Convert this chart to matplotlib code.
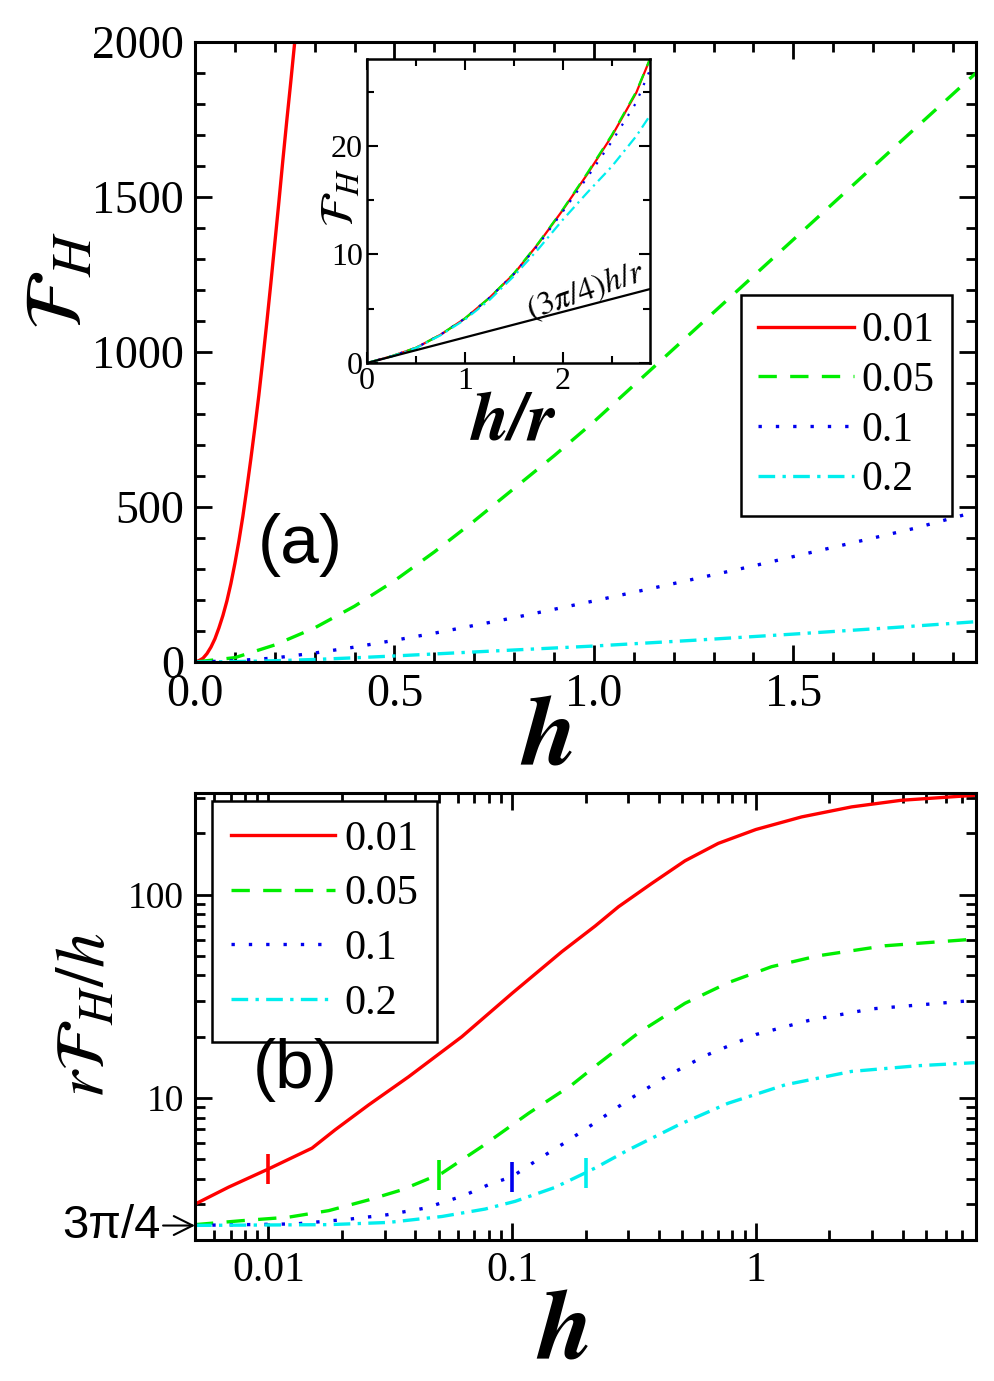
import numpy as np
import matplotlib
matplotlib.use("Agg")
import matplotlib.pyplot as plt
import matplotlib.ticker as mticker

plt.rcParams['font.family'] = ['Liberation Serif', 'DejaVu Serif']
plt.rcParams['mathtext.fontset'] = 'stix'

# ---------------- data ----------------
r_labels = ['0.01', '0.05', '0.1', '0.2']
r_values = [0.01, 0.05, 0.1, 0.2]
colors = ['#ff0000', '#00ee00', '#0000ee', '#00eeee']

# panel (a): F_H vs h
h_red = [0, 0.01, 0.02, 0.03, 0.04, 0.05, 0.06, 0.07, 0.08, 0.09, 0.10, 0.11, 0.12, 0.13,
         0.14, 0.15, 0.16, 0.17, 0.18, 0.19, 0.20, 0.21, 0.22, 0.23, 0.24, 0.25, 0.26]
F_red = [0, 4.5, 12, 27, 48, 75, 110, 150, 197, 253, 318, 390, 470, 560,
         655, 755, 860, 975, 1095, 1220, 1350, 1480, 1615, 1745, 1870, 2000, 2125]
h_green = [0, 0.1, 0.2, 0.3, 0.4, 0.5, 0.6, 0.7, 0.8, 0.9, 1.0, 1.2, 1.4, 1.6, 1.8, 1.958]
F_green = [0, 14, 55, 110, 180, 262, 355, 455, 560, 665, 775, 1010, 1245, 1480, 1715, 1900]
h_blue = [0, 0.1, 0.2, 0.3, 0.4, 0.5, 0.6, 0.7, 0.8, 0.9, 1.0, 1.2, 1.4, 1.6, 1.8, 1.958]
F_blue = [0, 4, 13, 29, 48, 70, 93, 118, 143, 170, 197, 253, 310, 370, 430, 485]
h_cyan = [0, 0.1, 0.2, 0.3, 0.4, 0.5, 0.75, 1.0, 1.25, 1.5, 1.75, 1.958]
F_cyan = [0, 1.3, 4.1, 8.2, 13.5, 19.5, 35.6, 51.5, 70, 90, 111, 130]

# inset: F_H vs h/r
hr_inset = [0, 0.25, 0.5, 0.75, 1.0, 1.25, 1.5, 1.75, 2.0, 2.25, 2.5, 2.75, 2.89]
Fi_red = [0, 0.62, 1.4, 2.6, 4.1, 6.0, 8.2, 11.0, 14.1, 17.4, 20.9, 24.9, 28.0]
Fi_green = [0, 0.62, 1.4, 2.6, 4.1, 6.0, 8.25, 11.05, 14.15, 17.5, 21.0, 25.0, 28.0]
Fi_blue = [0, 0.62, 1.4, 2.6, 4.1, 6.0, 8.2, 10.9, 13.95, 17.1, 20.4, 24.0, 27.0]
Fi_cyan = [0, 0.6, 1.38, 2.55, 4.0, 5.8, 8.0, 10.5, 13.2, 15.7, 18.1, 20.9, 22.8]

# panel (b): r F_H / h vs h (log-log)
hb_red = [0.00502, 0.00687, 0.01, 0.0151, 0.0188, 0.0258, 0.0376, 0.0622, 0.1, 0.16, 0.219,
          0.273, 0.374, 0.512, 0.701, 1.0, 1.54, 2.47, 3.95, 7.9]
yb_red = [3.01, 3.64, 4.47, 5.66, 6.97, 9.24, 12.7, 20.0, 32.7, 52.4, 70.0,
          87.1, 113.5, 146.6, 178.6, 209, 241, 270, 291, 308]
hb_green = [0.005, 0.0078, 0.0121, 0.0177, 0.0258, 0.0353, 0.0515, 0.0751, 0.117, 0.176, 0.219,
            0.330, 0.512, 0.771, 1.16, 1.80, 3.38, 7.9]
yb_green = [2.38, 2.49, 2.59, 2.79, 3.15, 3.53, 4.26, 5.76, 8.41, 11.6, 14.3,
            20.9, 29.2, 36.9, 44.2, 50.0, 56.0, 60.4]
hb_blue = [0.005, 0.0129, 0.0213, 0.0306, 0.0440, 0.0631, 0.080, 0.1, 0.130, 0.165, 0.212,
           0.300, 0.431, 0.618, 1.0, 1.64, 2.98, 7.9]
yb_blue = [2.36, 2.40, 2.53, 2.66, 2.87, 3.30, 3.74, 4.10, 5.05, 6.03, 7.36,
           9.78, 12.8, 16.1, 20.5, 24.0, 27.4, 30.2]
hb_cyan = [0.005, 0.0177, 0.0311, 0.0515, 0.0775, 0.103, 0.150, 0.199, 0.219, 0.300, 0.481,
           0.771, 1.32, 2.47, 4.63, 7.9]
yb_cyan = [2.36, 2.38, 2.44, 2.61, 2.84, 3.10, 3.63, 4.27, 4.52, 5.55, 7.36,
           9.42, 11.6, 13.5, 14.4, 14.9]

# ---------------- styles ----------------
LW = 2.4
styles = [dict(linestyle='-'),
          dict(linestyle=(0, (5.5, 4))),
          dict(linestyle=(0, (1, 4.2))),
          dict(linestyle=(0, (5, 2.2, 1, 2.2)))]

W, H = 994, 1381
fig = plt.figure(figsize=(W / 100, H / 100), dpi=100)

def fbox(l, t, r, b):
    return [l / W, 1 - b / H, (r - l) / W, (b - t) / H]

def style_axes(ax, lw=2.2):
    for s in ax.spines.values():
        s.set_linewidth(lw)
    ax.tick_params(which='both', direction='in', top=True, right=True, width=2)
    ax.tick_params(which='major', length=12)
    ax.tick_params(which='minor', length=7)

LABEL_FONT = dict(family='STIXGeneral', fontweight='bold', fontstyle='italic')

# ---------------- panel (a) ----------------
ax1 = fig.add_axes(fbox(195, 42, 976, 662))
a_h = [h_red, h_green, h_blue, h_cyan]
a_F = [F_red, F_green, F_blue, F_cyan]
for h, F, c, st, lab in zip(a_h, a_F, colors, styles, r_labels):
    ax1.plot(h, F, color=c, lw=LW, label=lab, **st)
ax1.set_xlim(0, 1.958)
ax1.set_ylim(0, 2000)
ax1.set_xticks([0, 0.5, 1.0, 1.5])
ax1.set_xticklabels(['0.0', '0.5', '1.0', '1.5'])
ax1.set_xticks(np.arange(0, 1.96, 0.1), minor=True)
ax1.set_yticks([0, 500, 1000, 1500, 2000])
ax1.set_yticks(np.arange(0, 2001, 100), minor=True)
style_axes(ax1)
ax1.tick_params(axis='both', labelsize=33, pad=8)
leg1 = ax1.legend(loc='upper left', bbox_to_anchor=(741 / W, 1 - 295 / H), bbox_transform=fig.transFigure,
                  fontsize=30, frameon=True, fancybox=False, edgecolor='black', framealpha=1,
                  handlelength=2.3, handletextpad=0.2, labelspacing=0.27, borderpad=0.4,
                  borderaxespad=0)
leg1.get_frame().set_linewidth(1.8)
fig.text(300 / W, 1 - 545 / H, '(a)', fontsize=50, family='Liberation Sans', ha='center', va='center')
fig.text(62 / W, 1 - 280 / H, r'$\mathcal{F}_H$', fontsize=58, rotation=90, ha='center', va='center')
fig.text(549 / W, 1 - 765 / H, 'h', fontsize=72, ha='center', va='baseline', **LABEL_FONT)

# ---------------- inset ----------------
axi = fig.add_axes(fbox(367, 59, 650, 363))
i_F = [Fi_red, Fi_green, Fi_blue, Fi_cyan]
for F, c, st in zip(i_F, colors, styles):
    axi.plot(hr_inset, F, color=c, lw=1.6, **st)
xx = np.array([0, 2.89])
axi.plot(xx, 3 * np.pi / 4 * xx, color='black', lw=1.6)
axi.set_xlim(0, 2.89)
axi.set_ylim(0, 28)
axi.set_xticks([0, 1, 2])
axi.set_xticks([0.5, 1.5, 2.5], minor=True)
axi.set_yticks([0, 10, 20])
axi.set_yticks([5, 15, 25], minor=True)
style_axes(axi, lw=1.8)
axi.tick_params(which='major', length=8, width=1.5)
axi.tick_params(which='minor', length=5, width=1.5)
axi.tick_params(axis='both', labelsize=23, pad=3)
axi.text(2.236, 6.6, r'$(3\pi/4)h/r$', fontsize=24, rotation=19, ha='center', va='center')
fig.text(342 / W, 1 - 198 / H, r'$\mathcal{F}_H$', fontsize=34, rotation=90, ha='center', va='center')
fig.text(513 / W, 1 - 440 / H, 'h/r', fontsize=50, ha='center', va='baseline', **LABEL_FONT)

# ---------------- panel (b) ----------------
ax2 = fig.add_axes(fbox(195, 793, 976, 1240))
b_h = [hb_red, hb_green, hb_blue, hb_cyan]
b_y = [yb_red, yb_green, yb_blue, yb_cyan]
for h, y, c, st, lab, r in zip(b_h, b_y, colors, styles, r_labels, r_values):
    ax2.plot(h, y, color=c, lw=LW, label=lab, **st)
    yr = 10 ** np.interp(np.log10(r), np.log10(h), np.log10(y))
    ax2.plot([r], [yr], marker='|', color=c, markersize=22, markeredgewidth=2.6, linestyle='none')
ax2.set_xscale('log')
ax2.set_yscale('log')
ax2.set_xlim(0.005, 8.0)
ax2.set_ylim(2.0, 316)
ax2.set_xticks([0.01, 0.1, 1])
ax2.set_xticklabels(['0.01', '0.1', '1'])
ax2.set_yticks([10, 100])
ax2.set_yticklabels(['10', '100'])
ax2.yaxis.set_minor_formatter(mticker.NullFormatter())
ax2.xaxis.set_minor_formatter(mticker.NullFormatter())
style_axes(ax2)
ax2.tick_params(axis='x', labelsize=30, pad=8)
ax2.tick_params(axis='y', labelsize=27, pad=8)
leg2 = ax2.legend(loc='upper left', bbox_to_anchor=(212 / W, 1 - 801 / H), bbox_transform=fig.transFigure,
                  fontsize=30.5, frameon=True, fancybox=False, edgecolor='black', framealpha=1,
                  handlelength=2.45, handletextpad=0.22, labelspacing=0.38, borderpad=0.45,
                  borderaxespad=0)
leg2.get_frame().set_linewidth(1.8)
fig.text(295 / W, 1 - 1070 / H, '(b)', fontsize=50, family='Liberation Sans', ha='center', va='center')
fig.text(88 / W, 1 - 1015 / H, r'$r\mathcal{F}_H/h$', fontsize=50, rotation=90, ha='center', va='center')
fig.text(565 / W, 1 - 1360 / H, 'h', fontsize=72, ha='center', va='baseline', **LABEL_FONT)
ax2.annotate('3π/4', xy=(0.005, 3 * np.pi / 4), xycoords='data',
             xytext=(-25, 0), textcoords='offset points', ha='right', va='center',
             fontsize=34, family='Liberation Sans', annotation_clip=False,
             arrowprops=dict(arrowstyle='->', color='black', lw=1.5, shrinkA=0, shrinkB=0))

fig.savefig('out.png', dpi=100)
